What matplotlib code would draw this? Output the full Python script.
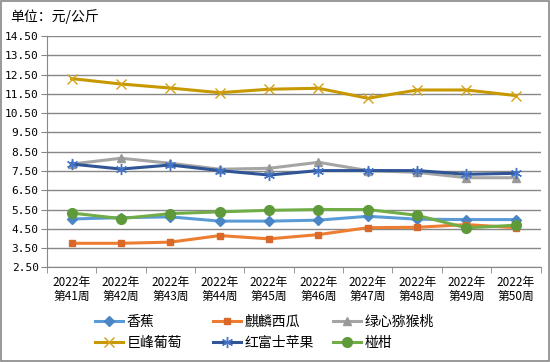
import matplotlib
matplotlib.use("Agg")
import matplotlib.pyplot as plt
from matplotlib.lines import Line2D

plt.rcParams['font.family'] = ['Noto Sans CJK SC', 'DejaVu Sans']

weeks = ["2022年\n第41周", "2022年\n第42周", "2022年\n第43周", "2022年\n第44周", "2022年\n第45周",
         "2022年\n第46周", "2022年\n第47周", "2022年\n第48周", "2022年\n第49周", "2022年\n第50周"]
banana = [5.01, 5.08, 5.12, 4.90, 4.90, 4.95, 5.15, 5.00, 4.98, 4.98]
watermelon = [3.75, 3.75, 3.81, 4.15, 3.98, 4.20, 4.56, 4.58, 4.72, 4.56]
kiwi = [7.86, 8.16, 7.90, 7.59, 7.64, 7.95, 7.52, 7.43, 7.15, 7.15]
grape = [12.29, 12.01, 11.80, 11.56, 11.74, 11.79, 11.27, 11.70, 11.70, 11.41]
apple = [7.86, 7.60, 7.81, 7.52, 7.29, 7.52, 7.52, 7.52, 7.33, 7.38]
mandarin = [5.32, 5.03, 5.29, 5.38, 5.46, 5.50, 5.50, 5.20, 4.55, 4.69]
yticks = [2.5, 3.5, 4.5, 5.5, 6.5, 7.5, 8.5, 9.5, 10.5, 11.5, 12.5, 13.5, 14.5]

fig = plt.figure(figsize=(5.5, 3.62), dpi=100)
ax = fig.add_axes([47/550, (362-267.4)/362, (540.5-47)/550, (267.4-36)/362])

x = list(range(len(weeks)))
series = [
    ("香蕉", banana, "#5B9BD5", "#4A86C5", "D", 5),
    ("麒麟西瓜", watermelon, "#ED7D31", "#D9692A", "s", 5),
    ("绿心猕猴桃", kiwi, "#A5A5A5", "#999999", "^", 6),
    ("巨峰葡萄", grape, "#C89800", "#D4A017", "x", 7),
    ("红富士苹果", apple, "#2F5597", "#4472C4", (6, 2, 0), 8),
    ("椪柑", mandarin, "#70AD47", "#5E9A3A", "o", 7),
]
handles = []
for name, vals, c, mc, m, ms in series:
    kw = dict(color=c, lw=2.2, marker=m, ms=ms, mec=mc, mfc=mc)
    if m == "x" or m == (6, 2, 0):
        kw['mew'] = 1.0
    ax.plot(x, vals, **kw)
    handles.append((Line2D([], [], **kw), name))

ax.set_xlim(-0.5, len(weeks) - 0.5)
ax.set_ylim(2.5, 14.5)
ax.set_yticks(yticks)
ax.set_yticklabels([f"{v:.2f}" for v in yticks], fontsize=8, family=['DejaVu Sans Mono', 'DejaVu Sans'])
ax.set_xticks(x)
ax.set_xticklabels(weeks, fontsize=8.5, linespacing=1.15)
ax.set_xticks([i - 0.5 for i in range(len(weeks) + 1)], minor=True)
ax.tick_params(axis='x', which='major', length=0, pad=6)
ax.tick_params(axis='x', which='minor', length=4, color="#878787")
ax.tick_params(axis='y', length=4, color="#878787", pad=2)
ax.grid(axis='y', color="#878787", lw=1)
ax.set_axisbelow(True)
for s in ['top', 'right']:
    ax.spines[s].set_visible(False)
ax.spines['left'].set_color("#878787")
ax.spines['bottom'].set_color("#878787")

fig.text(10/550, 1 - 17/362, "单位：元/公斤", fontsize=10, va='center', ha='left')

# legend: three columns placed at fixed positions (row-wise order as in reference)
col_x = [95, 213, 333]
for ci in range(3):
    pair = [handles[ci], handles[ci + 3]]
    leg = fig.legend([h for h, _ in pair], [n for _, n in pair], loc='upper left',
                     bbox_to_anchor=(col_x[ci]/550, 1 - 315/362), frameon=False, fontsize=10,
                     handlelength=2.0, handletextpad=0.3, labelspacing=0.5,
                     borderpad=0, borderaxespad=0)

fig.patches.append(plt.Rectangle((0.001, 0.002), 0.997, 0.996, transform=fig.transFigure,
                                 fill=False, edgecolor="#878787", lw=1.2))
fig.savefig("out.png", dpi=100)
